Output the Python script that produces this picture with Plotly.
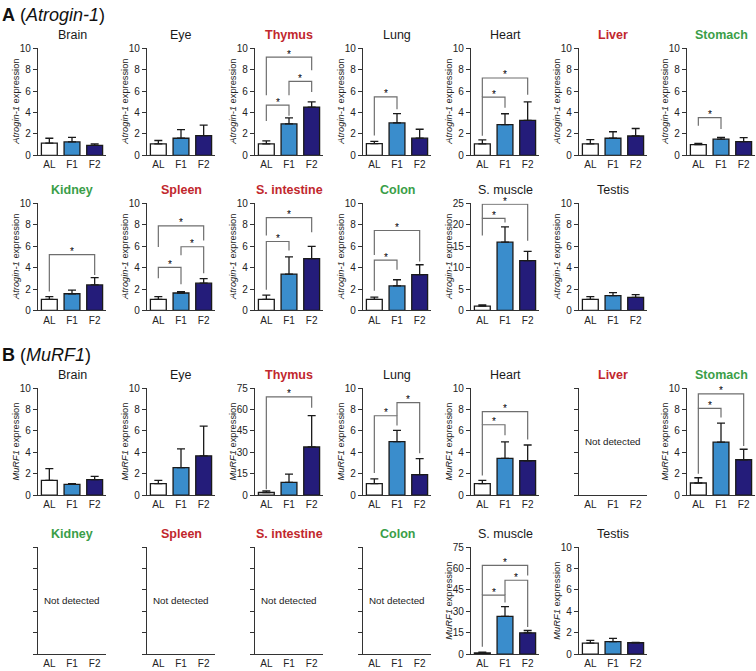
import plotly.graph_objects as go

W, H = 756, 671

groups = ["AL", "F1", "F2"]
bar_colors = ["#ffffff", "#3a8dcc", "#241c7a"]

tissues = ["Brain", "Eye", "Thymus", "Lung", "Heart", "Liver", "Stomach",
           "Kidney", "Spleen", "S. intestine", "Colon", "S. muscle", "Testis"]
red_titles = ["Thymus", "Liver", "Spleen", "S. intestine"]
green_titles = ["Stomach", "Kidney", "Colon"]

# Atrogin-1: mean and upper error (SE) per tissue, in AL/F1/F2 order
atrogin_mean = [
    [1.13, 1.25, 0.92], [1.07, 1.59, 1.83], [1.07, 2.94, 4.50], [1.08, 3.02, 1.60],
    [1.07, 2.87, 3.27], [1.07, 1.59, 1.80], [1.00, 1.50, 1.28],
    [1.04, 1.56, 2.39], [1.04, 1.63, 2.55], [1.04, 3.40, 4.85], [1.04, 2.29, 3.35],
    [1.00, 15.95, 11.66], [1.04, 1.38, 1.23],
]
atrogin_err = [
    [0.46, 0.43, 0.15], [0.31, 0.80, 0.98], [0.28, 0.55, 0.48], [0.21, 0.88, 0.83],
    [0.37, 1.01, 1.71], [0.40, 0.61, 0.70], [0.10, 0.18, 0.37],
    [0.25, 0.34, 0.68], [0.25, 0.12, 0.43], [0.40, 1.60, 1.13], [0.21, 0.58, 0.92],
    [0.30, 3.55, 2.14], [0.25, 0.28, 0.24],
]
atrogin_ymax = [10, 10, 10, 10, 10, 10, 10, 10, 10, 10, 10, 25, 10]
# (tissue, group i, group j, bracket level, left leg bottom, right leg bottom)
atrogin_sig = [
    ("Thymus", 0, 1, 4.68, 3.2, 3.7), ("Thymus", 1, 2, 6.91, 5.6, 5.9),
    ("Thymus", 0, 2, 9.17, 5.6, 7.95),
    ("Lung", 0, 1, 5.45, 1.85, 4.3),
    ("Heart", 0, 1, 5.44, 1.83, 4.43), ("Heart", 0, 2, 7.22, 5.44, 5.66),
    ("Stomach", 0, 1, 3.52, 2.75, 2.45),
    ("Kidney", 0, 2, 5.21, 1.78, 3.31),
    ("Spleen", 0, 1, 4.02, 3.0, 2.45), ("Spleen", 1, 2, 5.95, 5.15, 3.47),
    ("Spleen", 0, 2, 7.91, 5.92, 6.53),
    ("S. intestine", 0, 1, 6.44, 1.93, 5.61), ("S. intestine", 0, 2, 8.68, 7.0, 7.3),
    ("Colon", 0, 1, 4.7, 1.83, 3.81), ("Colon", 0, 2, 7.47, 5.18, 4.57),
    ("S. muscle", 0, 1, 21.5, 17.5, 20.55), ("S. muscle", 0, 2, 24.8, 21.5, 16.3),
]

# MuRF1 (None = not detected)
murf_mean = [
    [1.38, 1.00, 1.44], [1.07, 2.57, 3.67], [1.8, 8.9, 33.7], [1.07, 5.00, 1.92],
    [1.07, 3.43, 3.21], None, [1.13, 4.95, 3.30],
    None, None, None, None,
    [0.92, 26.5, 14.95], [1.04, 1.17, 1.07],
]
murf_err = [
    [1.10, 0.07, 0.30], [0.31, 1.74, 2.78], [1.2, 5.8, 22.0], [0.45, 1.04, 1.49],
    [0.31, 1.55, 1.47], None, [0.49, 1.78, 0.98],
    None, None, None, None,
    [0.48, 6.9, 1.65], [0.25, 0.30, 0.03],
]
murf_ymax = [10, 10, 75, 10, 10, 10, 10, 10, 10, 10, 10, 75, 10]
murf_sig = [
    ("Thymus", 0, 2, 68.8, 4.1, 61.2),
    ("Lung", 0, 1, 7.41, 2.07, 6.49), ("Lung", 1, 2, 8.63, 7.41, 3.9),
    ("Heart", 0, 1, 6.57, 1.83, 5.6), ("Heart", 0, 2, 7.8, 6.57, 5.2),
    ("Stomach", 0, 1, 8.1, 1.99, 7.25), ("Stomach", 0, 2, 9.45, 8.1, 4.59),
    ("S. muscle", 0, 1, 41.4, 5.3, 36.3), ("S. muscle", 1, 2, 51.8, 41.4, 19.1),
    ("S. muscle", 0, 2, 62.3, 41.4, 55.2),
]

genes = [
    ("Atrogin-1", atrogin_mean, atrogin_err, atrogin_ymax, atrogin_sig),
    ("MuRF1", murf_mean, murf_err, murf_ymax, murf_sig),
]

# panel geometry in pixels
col_left = [38, 147, 255, 363, 471, 579, 687]
row_top = [43, 201, 389, 551]
pw, ph = 68, 109
FONT = "Liberation Sans, Arial, sans-serif"
AXC = "#333333"

fig = go.Figure()
layout = {}
annotations = []

k = 0
for g, (gene, means, errs, ymaxes, sigs) in enumerate(genes):
    for t, tissue in enumerate(tissues):
        k += 1
        sfx = "" if k == 1 else str(k)
        r = 2 * g + (0 if t < 7 else 1)
        c = t if t < 7 else t - 7
        x0 = col_left[c]
        y0 = row_top[r]
        ymax = ymaxes[t]
        detected = means[t] is not None

        layout["xaxis" + sfx] = dict(
            domain=[x0 / W, (x0 + pw) / W], anchor="y" + sfx,
            type="category", categoryorder="array", categoryarray=groups,
            range=[-0.5, 2.5], showline=True, linecolor=AXC, linewidth=1.2,
            ticks="", showgrid=False, zeroline=False, fixedrange=True,
            tickfont=dict(size=10, color="#222", family=FONT),
        )
        layout["yaxis" + sfx] = dict(
            domain=[1 - (y0 + ph) / H, 1 - y0 / H], anchor="x" + sfx,
            range=[0, ymax], dtick=ymax / 5 if ymax != 10 else 2,
            showline=True, linecolor=AXC, linewidth=1.2,
            ticks="outside", ticklen=4, tickwidth=1, tickcolor=AXC,
            showticklabels=detected, showgrid=False, zeroline=False,
            fixedrange=True, tickfont=dict(size=10, color="#222", family=FONT),
        )

        if detected:
            fig.add_trace(go.Bar(
                x=groups, y=means[t], width=0.7,
                marker=dict(color=bar_colors, line=dict(color="#1a1a1a", width=1.3)),
                error_y=dict(type="data", array=errs[t], arrayminus=[0, 0, 0],
                             symmetric=False, color="#1a1a1a", thickness=1.3, width=4),
                xaxis="x" + sfx, yaxis="y" + sfx, showlegend=False, hoverinfo="skip",
            ))
            annotations.append(dict(
                text=f"<i>{gene}</i> expression", textangle=-90,
                xref=f"x{sfx} domain", yref=f"y{sfx} domain", x=0, y=0.5,
                xanchor="center", yanchor="middle", xshift=-22, showarrow=False,
                font=dict(size=9.3, color="#222", family=FONT),
            ))
        else:
            fig.add_trace(go.Bar(
                x=groups, y=[0, 0, 0], marker=dict(color="rgba(0,0,0,0)", line=dict(width=0)),
                xaxis="x" + sfx, yaxis="y" + sfx, showlegend=False, hoverinfo="skip",
            ))
            annotations.append(dict(
                text="Not detected", xref=f"x{sfx} domain", yref=f"y{sfx} domain",
                x=0, y=0.5, xanchor="left", yanchor="middle", xshift=4,
                showarrow=False, font=dict(size=9.8, color="#222", family=FONT),
            ))

        # significance brackets
        bx, by = [], []
        for (name, i, j, lvl, lb, rb) in sigs:
            if name != tissue:
                continue
            bx += [groups[i], groups[i], groups[j], groups[j], None]
            by += [lb, lvl, lvl, rb, None]
            annotations.append(dict(
                text="*", xref="x" + sfx, yref="y" + sfx, x=(i + j) / 2, y=lvl,
                yanchor="middle", yshift=3, showarrow=False,
                font=dict(size=10, color="#000", family=FONT),
            ))
        if bx:
            fig.add_trace(go.Scatter(
                x=bx, y=by, mode="lines", line=dict(color="#6e6e6e", width=1.2),
                xaxis="x" + sfx, yaxis="y" + sfx, showlegend=False, hoverinfo="skip",
            ))

        if tissue in red_titles:
            ttl, tcol = f"<b>{tissue}</b>", "#c1272d"
        elif tissue in green_titles:
            ttl, tcol = f"<b>{tissue}</b>", "#3a9e48"
        else:
            ttl, tcol = tissue, "#1a1a1a"
        annotations.append(dict(
            text=ttl, xref=f"x{sfx} domain", yref=f"y{sfx} domain", x=0.5, y=1,
            xanchor="center", yanchor="middle", yshift=13, showarrow=False,
            font=dict(size=12.5, color=tcol, family=FONT),
        ))

# section headers
annotations.append(dict(
    text="<b>A</b> (<i>Atrogin-1</i>)", xref="paper", yref="paper",
    x=0, y=1 - 9 / H, xanchor="left", yanchor="middle", showarrow=False,
    font=dict(size=18, color="#111", family=FONT),
))
annotations.append(dict(
    text="<b>B</b> (<i>MuRF1</i>)", xref="paper", yref="paper",
    x=0, y=1 - 355 / H, xanchor="left", yanchor="middle", showarrow=False,
    font=dict(size=18, color="#111", family=FONT),
))

fig.update_layout(
    width=W, height=H,
    margin=dict(l=0, r=0, t=0, b=0),
    paper_bgcolor="white", plot_bgcolor="white",
    font=dict(family=FONT),
    annotations=annotations,
    bargap=0.3,
    **layout,
)

# page body has a default 8px margin; drop it so the figure fills the window
fig.write_html(
    "out.html",
    config={"displayModeBar": False},
    post_script="document.body.style.margin='0';document.body.style.overflow='hidden';",
)
